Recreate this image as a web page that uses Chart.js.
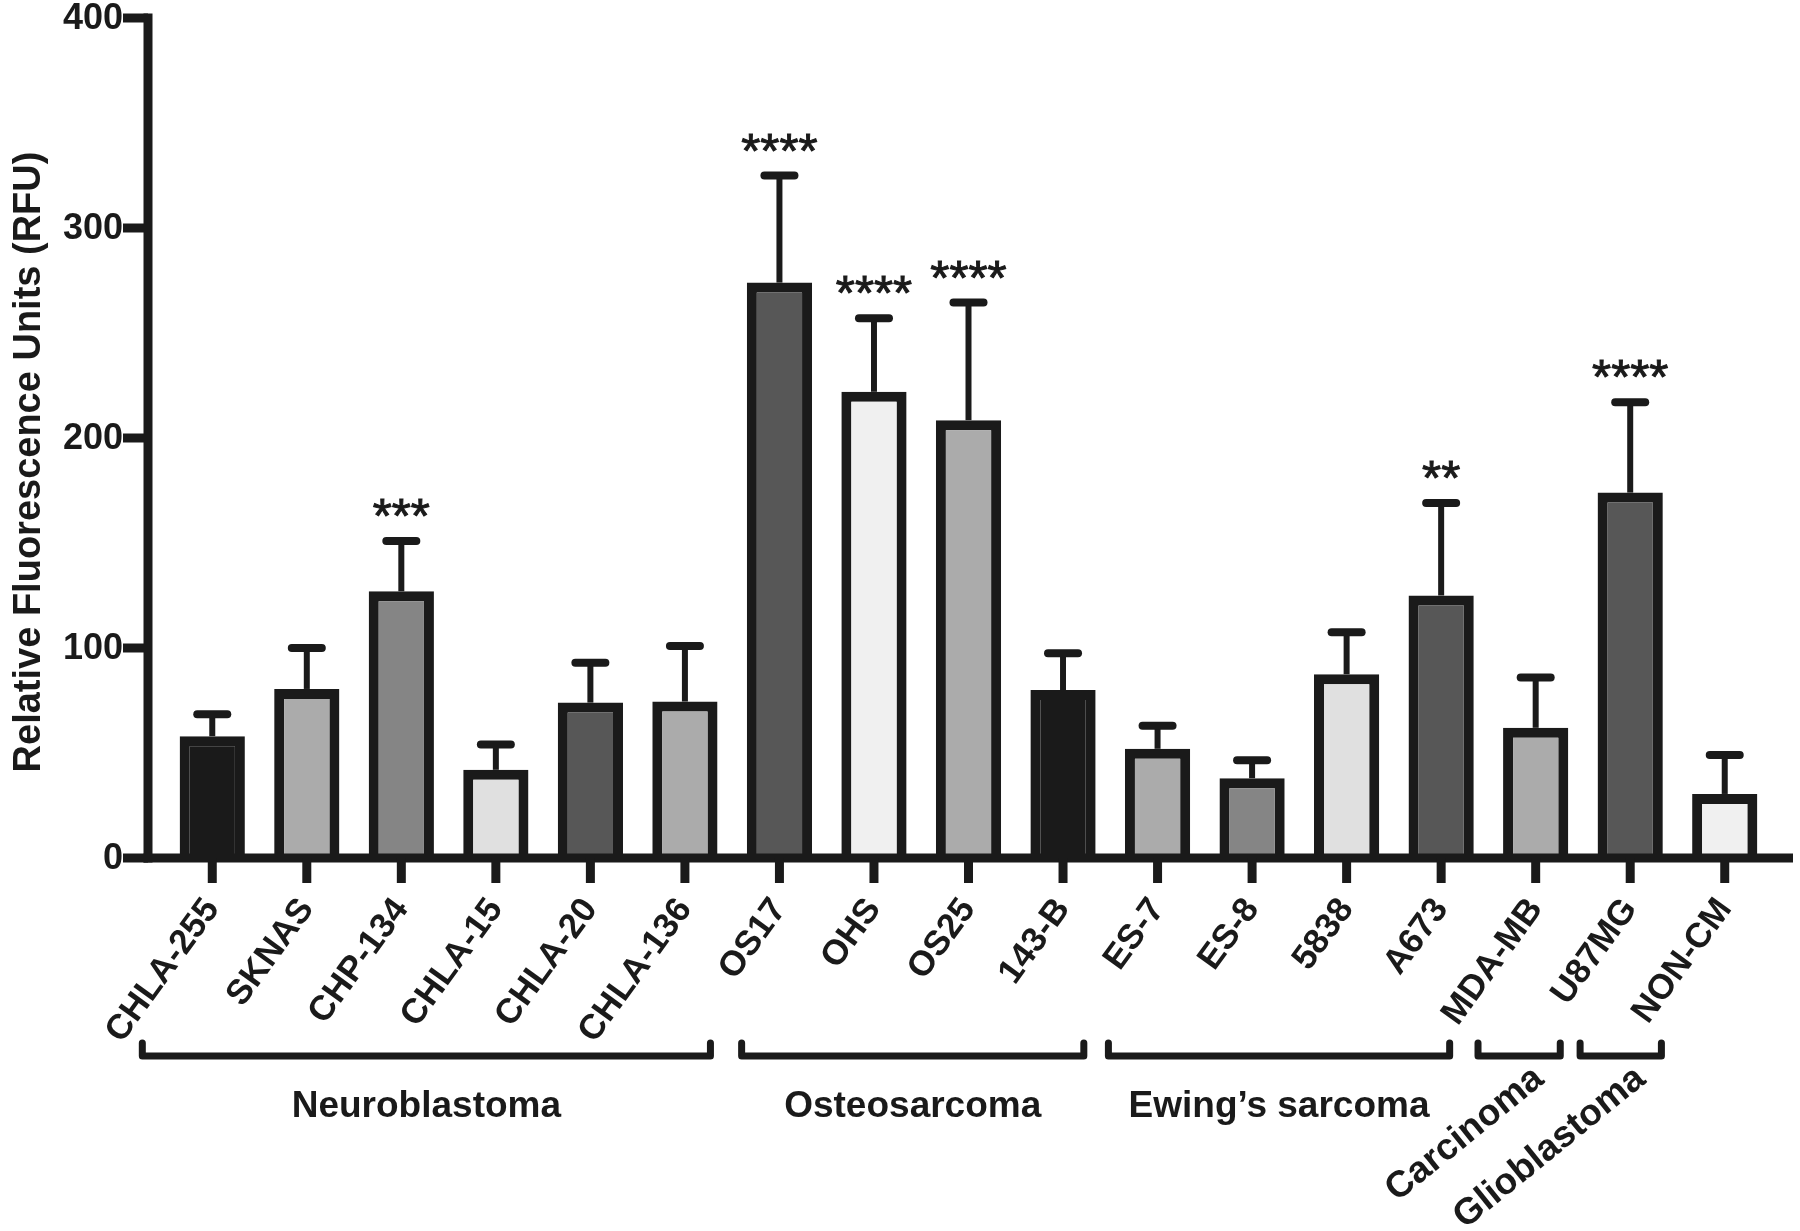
<!DOCTYPE html>
<html>
<head>
<meta charset="utf-8">
<script src="https://cdn.jsdelivr.net/npm/chart.js@4.4.1/dist/chart.umd.min.js"></script>
<style>
  body { margin: 0; background: #fff; }
  canvas { display: block; }
</style>
</head>
<body>
<canvas id="graphCanvas" width="1800" height="1231"></canvas>
<script>
// cell lines, mean RFU and upper SD
var cellLines = ['CHLA-255', 'SKNAS', 'CHP-134', 'CHLA-15', 'CHLA-20', 'CHLA-136',
                 'OS17', 'OHS', 'OS25', '143-B',
                 'ES-7', 'ES-8', '5838', 'A673',
                 'MDA-MB', 'U87MG', 'NON-CM'];
var meanRFU = [58, 80.5, 127, 42, 74, 74.5, 274, 222, 208.5, 80, 52, 38, 87.5, 125, 62, 174, 30.5];
var sdRFU   = [10.5, 19.5, 24, 12, 19, 26.5, 51, 35, 56, 17.5, 11, 8.5, 20, 44, 24, 43, 18.5];
var stars   = ['', '', '***', '', '', '', '****', '****', '****', '', '', '', '', '**', '', '****', ''];
var barFill = ['#1a1a1a', '#ababab', '#858585', '#e0e0e0', '#575757', '#ababab',
               '#575757', '#f0f0f0', '#ababab', '#1a1a1a',
               '#ababab', '#858585', '#e0e0e0', '#575757',
               '#ababab', '#575757', '#f0f0f0'];
var yTicks = [0, 100, 200, 300, 400];
var yTitle = 'Relative Fluorescence Units (RFU)';

// groups: name and span in category units
var groupNames = ['Neuroblastoma', 'Osteosarcoma', 'Ewing\u2019s sarcoma', 'Carcinoma', 'Glioblastoma'];
var groupFrom  = [-0.74, 5.60, 9.48, 13.39, 14.47];
var groupTo    = [5.27, 9.22, 13.09, 14.26, 15.33];

var ink = '#1a1a1a';
var FONT = '"Liberation Sans", Arial, Helvetica, sans-serif';

function line(ctx, x1, y1, x2, y2) {
  ctx.beginPath();
  ctx.moveTo(x1, y1);
  ctx.lineTo(x2, y2);
  ctx.stroke();
}

var overlay = {
  id: 'overlay',
  afterDatasetsDraw: function(chart) {
    var ctx = chart.ctx;
    var xs = chart.scales.x, ys = chart.scales.y;
    var area = chart.chartArea;
    ctx.save();
    ctx.strokeStyle = ink;
    ctx.fillStyle = ink;

    // error bars + significance
    for (var i = 0; i < cellLines.length; i++) {
      var cx = xs.getPixelForValue(i);
      var y0 = ys.getPixelForValue(meanRFU[i]);
      var y1 = ys.getPixelForValue(meanRFU[i] + sdRFU[i]);
      ctx.lineCap = 'butt';
      ctx.lineWidth = 6;
      line(ctx, cx, y0, cx, y1);
      ctx.lineCap = 'round';
      ctx.lineWidth = 8;
      line(ctx, cx - 15, y1, cx + 15, y1);
      if (stars[i]) {
        ctx.font = '49px ' + FONT;
        ctx.textAlign = 'center';
        ctx.textBaseline = 'alphabetic';
        ctx.lineWidth = 1;
        ctx.strokeText(stars[i], cx, y1 - 9);
        ctx.fillText(stars[i], cx, y1 - 9);
      }
    }

    // axes
    var axisX = area.left - 17;
    var baseY = ys.getPixelForValue(0);
    ctx.lineCap = 'butt';
    ctx.lineWidth = 9;
    line(ctx, axisX, ys.getPixelForValue(400) - 4.5, axisX, baseY + 4.5);
    line(ctx, axisX - 4.5, baseY, area.right + 21, baseY);

    ctx.font = 'bold 36px ' + FONT;
    ctx.textAlign = 'right';
    ctx.textBaseline = 'middle';
    yTicks.forEach(function(v) {
      var ty = ys.getPixelForValue(v);
      line(ctx, axisX - 25, ty, axisX, ty);
      ctx.fillText(String(v), axisX - 25, ty + 1);
    });

    // x ticks and rotated labels
    ctx.font = 'bold 35px ' + FONT;
    for (var j = 0; j < cellLines.length; j++) {
      var tx = xs.getPixelForValue(j);
      line(ctx, tx, baseY, tx, baseY + 25);
      ctx.save();
      ctx.translate(tx, baseY + 45);
      ctx.rotate(-54 * Math.PI / 180);
      ctx.textAlign = 'right';
      ctx.textBaseline = 'middle';
      ctx.fillText(cellLines[j], 0, 0);
      ctx.restore();
    }

    // group brackets
    var brY = 1056, tipY = 1043;
    ctx.lineWidth = 7;
    ctx.lineCap = 'round';
    ctx.lineJoin = 'round';
    ctx.font = 'bold 37px ' + FONT;
    for (var g = 0; g < groupNames.length; g++) {
      var gx1 = xs.getPixelForValue(groupFrom[g]);
      var gx2 = xs.getPixelForValue(groupTo[g]);
      ctx.beginPath();
      ctx.moveTo(gx1, tipY);
      ctx.lineTo(gx1, brY);
      ctx.lineTo(gx2, brY);
      ctx.lineTo(gx2, tipY);
      ctx.stroke();
      var gc = (gx1 + gx2) / 2;
      if (gx2 - gx1 < 150) {
        ctx.save();
        ctx.translate(gc + 20, brY + 18);
        ctx.rotate(-39 * Math.PI / 180);
        ctx.textAlign = 'right';
        ctx.textBaseline = 'middle';
        ctx.fillText(groupNames[g], 0, 0);
        ctx.restore();
      } else {
        ctx.textAlign = 'center';
        ctx.textBaseline = 'alphabetic';
        ctx.fillText(groupNames[g], gc, 1117);
      }
    }

    // y title
    ctx.save();
    ctx.translate(30, 462);
    ctx.rotate(-Math.PI / 2);
    ctx.font = 'bold 38px ' + FONT;
    ctx.textAlign = 'center';
    ctx.textBaseline = 'middle';
    ctx.fillText(yTitle, 0, 0);
    ctx.restore();

    ctx.restore();
  }
};

var graphTarget = document.getElementById('graphCanvas');
var barGraph = new Chart(graphTarget, {
  type: 'bar',
  data: {
    labels: cellLines,
    datasets: [{
      label: 'RFU',
      data: meanRFU,
      backgroundColor: barFill,
      borderColor: ink,
      borderWidth: 10,
      barPercentage: 0.69,
      categoryPercentage: 1.0
    }]
  },
  options: {
    responsive: false,
    animation: false,
    devicePixelRatio: 1,
    layout: { padding: { left: 165, right: 28, top: 18, bottom: 373 } },
    plugins: { legend: { display: false }, tooltip: { enabled: false } },
    scales: {
      x: { display: false, offset: true, grid: { display: false } },
      y: { display: false, min: 0, max: 400, grid: { display: false } }
    }
  },
  plugins: [overlay]
});
</script>
</body>
</html>
